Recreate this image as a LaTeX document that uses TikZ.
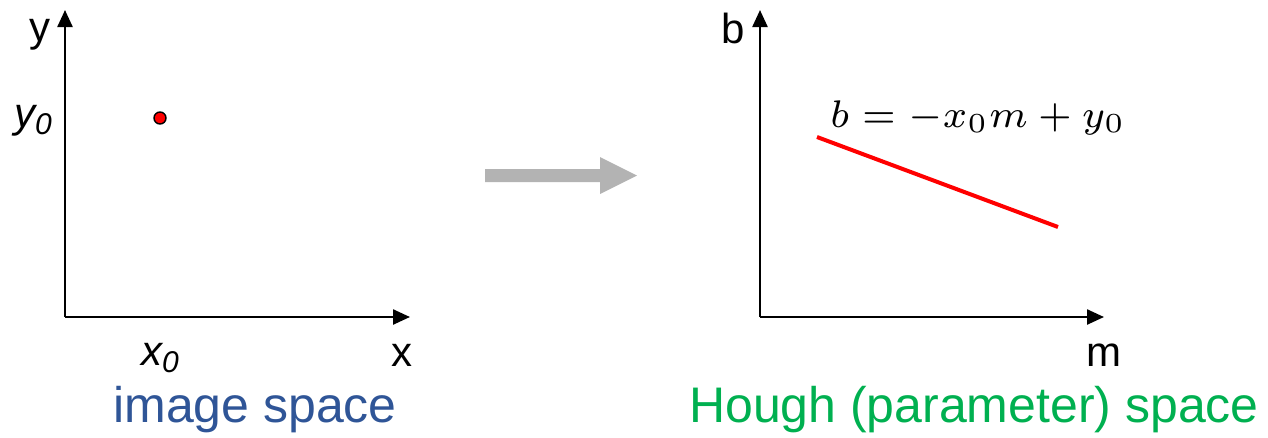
\documentclass[tikz,border=0pt]{standalone}
\usepackage{fontspec}
\setmainfont{Liberation Sans}
\usetikzlibrary{arrows.meta}
\definecolor{imgblue}{RGB}{47,85,151}
\definecolor{houghgreen}{RGB}{0,176,80}
\definecolor{arrowgrey}{RGB}{179,179,179}
\tikzset{
  axis/.style={line width=2.4pt,-{Triangle[length=17pt,width=15pt]}},
  axlabel/.style={inner sep=0pt,anchor=base,font=\fontsize{42}{50}\selectfont},
  italabel/.style={inner sep=0pt,anchor=base west,font=\fontsize{42}{50}\selectfont\itshape},
  caption/.style={inner sep=0pt,anchor=base,font=\fontsize{50}{60}\selectfont},
  eqlabel/.style={inner sep=0pt,anchor=base west},
}
\begin{document}
\begin{tikzpicture}[x=1pt,y=-1pt]
\useasboundingbox (0,0) rectangle (1268,437);
% left axes
\coordinate (O1) at (65,317);
\coordinate (Y1) at (65,10);
\coordinate (X1) at (410,317);
\draw[axis] (O1) -- (Y1);
\draw[axis] (O1) -- (X1);
\node[axlabel] (ylab) at (40,41) {y};
\node[axlabel] (xlab) at (402,366) {x};
\node[italabel] (y0lab) at (14,127) {y\raisebox{-0.18em}{\fontsize{30}{36}\selectfont 0}};
\node[italabel] (x0lab) at (141,365) {x\raisebox{-0.18em}{\fontsize{30}{36}\selectfont 0}};
\node[circle,draw=black,line width=1.4pt,fill=red,minimum size=12pt,inner sep=0pt] (pt) at (160,118) {};
\node[caption,text=imgblue] (cap1) at (255,422) {image space};
% grey arrow
\fill[arrowgrey] (485,169) -- (600,169) -- (600,157) -- (637,175.5) -- (600,194) -- (600,182) -- (485,182) -- cycle;
% right axes
\coordinate (O2) at (760,317);
\coordinate (Y2) at (760,10);
\coordinate (X2) at (1104,317);
\draw[axis] (O2) -- (Y2);
\draw[axis] (O2) -- (X2);
\node[axlabel] (blab) at (733,43) {b};
\node[axlabel] (mlab) at (1104,366) {m};
\coordinate (L1) at (817,137);
\coordinate (L2) at (1058,227);
\draw[red,line width=4pt] (L1) -- (L2);
\node[eqlabel] (eq) at (830,127) {\scalebox{5.5}{\scriptsize$b=-x_0m+y_0$}};
\node[caption,text=houghgreen] (cap2) at (974,422) {Hough (parameter) space};
\end{tikzpicture}
\end{document}
